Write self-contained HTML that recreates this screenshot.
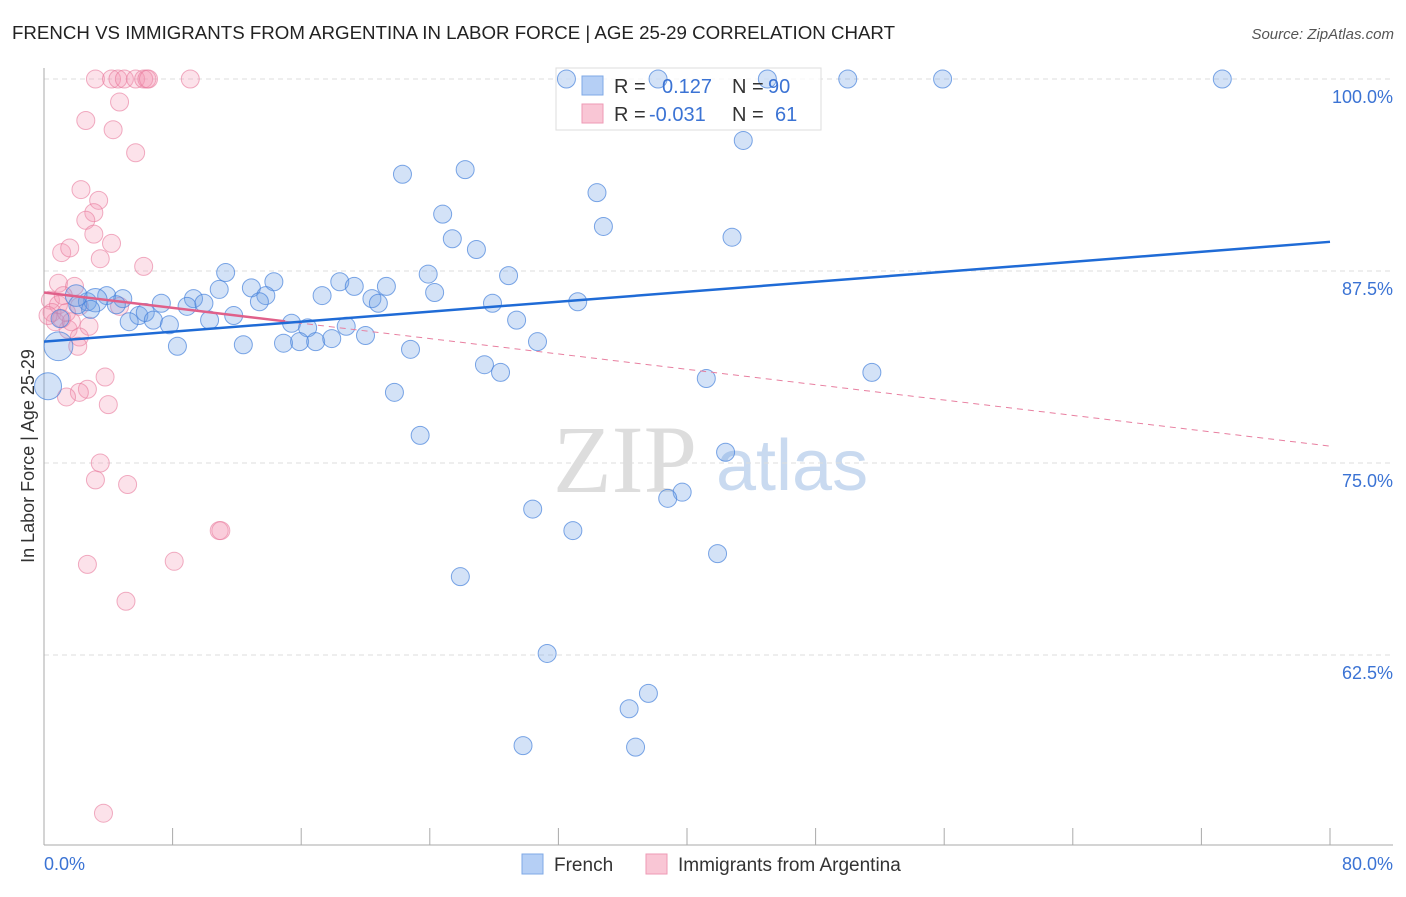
<!DOCTYPE html>
<html><head><meta charset="utf-8"><style>
body{margin:0;background:#fff;font-family:"Liberation Sans",sans-serif;}
</style></head><body>
<svg id="chart" width="1406" height="892" xmlns="http://www.w3.org/2000/svg">
<text x="12" y="39" font-size="18" fill="#222" textLength="883" lengthAdjust="spacingAndGlyphs">FRENCH VS IMMIGRANTS FROM ARGENTINA IN LABOR FORCE | AGE 25-29 CORRELATION CHART</text>
<text x="1394" y="39" font-size="15" fill="#555" font-style="italic" text-anchor="end">Source: ZipAtlas.com</text>
<g>
<text x="553" y="492" font-size="96" fill="#ddd" font-family="Liberation Serif,serif">ZIP</text>
<text x="716" y="490" font-size="72" fill="#c9daf0">atlas</text>
</g>
<g id="grid"></g><g id="axes"></g>
<g>
<rect x="556" y="68" width="265" height="62" fill="#fff" fill-opacity="0.75" stroke="#ddd"/>
</g>
<g id="marks"></g><g id="lines"></g>
<text x="34" y="456" font-size="18" fill="#333" text-anchor="middle" transform="rotate(-90 34 456)">In Labor Force | Age 25-29</text>
<g>
<rect x="582" y="76" width="21" height="19" fill="#b5cff5" stroke="#7fa9e6"/>
<rect x="582" y="104" width="21" height="19" fill="#f9c6d5" stroke="#ee9ab5"/>
<text font-size="20" fill="#333"><tspan x="614" y="93">R = </tspan><tspan x="662" fill="#3b73d4">0.127</tspan><tspan x="732">N = </tspan><tspan x="768" fill="#3b73d4">90</tspan></text>
<text font-size="20" fill="#333"><tspan x="614" y="121">R = </tspan><tspan x="649" fill="#3b73d4">-0.031</tspan><tspan x="732">N = </tspan><tspan x="775" fill="#3b73d4">61</tspan></text>
</g>
<g>
<rect x="522" y="854" width="21" height="20" fill="#b5cff5" stroke="#7fa9e6"/>
<text x="554" y="871" font-size="19" fill="#333">French</text>
<rect x="646" y="854" width="21" height="20" fill="#f9c6d5" stroke="#ee9ab5"/>
<text x="678" y="871" font-size="19" fill="#333">Immigrants from Argentina</text>
</g>
</svg>
<script>
const yTicks=[100,87.5,75,62.5];
const yTickLabels=["100.0%","87.5%","75.0%","62.5%"];
const xTickVals=[0,8,16,24,32,40,48,56,64,72,80];
const xEndLabels=["0.0%","80.0%"];
const frenchX=[32.5,38.2,45.0,50.0,55.9,73.3,43.5,22.3,26.2,34.4,24.8,34.8,25.4,42.8,26.9,11.3,14.3,12.9,18.4,23.9,28.9,19.3,21.3,24.3,17.3,13.8,10.9,20.4,20.8,27.9,33.2,9.3,7.3,8.9,9.95,13.4,11.8,3.9,4.9,2.7,2.1,5.9,6.3,6.8,5.3,7.8,10.3,15.4,16.4,18.8,29.4,8.3,12.4,14.9,15.9,16.9,17.9,20.0,22.8,30.7,27.4,28.4,41.2,51.5,21.8,23.4,42.4,39.7,38.8,30.4,32.9,41.9,25.9,31.3,37.6,36.4,29.8,36.8,0.9,0.25,1.0,3.2,4.5,2.0,2.9];
const frenchY=[100,100,100,100,100,100,96.0,93.8,94.1,92.6,91.2,90.4,89.6,89.7,88.9,87.4,86.8,86.4,86.8,87.3,87.2,86.5,86.5,86.1,85.9,85.9,86.3,85.7,85.4,85.4,85.5,85.7,85.4,85.2,85.4,85.5,84.6,85.9,85.7,85.5,85.3,84.6,84.8,84.3,84.2,84.0,84.3,84.1,83.8,83.9,84.3,82.6,82.7,82.8,82.9,82.9,83.1,83.3,82.4,82.9,81.4,80.9,80.5,80.9,79.6,76.8,75.7,73.1,72.7,72.0,70.6,69.1,67.6,62.6,60.0,59.0,56.6,56.5,82.6,80.0,84.4,85.6,85.3,85.9,85.0];
const frenchSize=[1,1,1,1,1,1,1,1,1,1,1,1,1,1,1,1,1,1,1,1,1,1,1,1,1,1,1,1,1,1,1,1,1,1,1,1,1,1,1,1,1,1,1,1,1,1,1,1,1,1,1,1,1,1,1,1,1,1,1,1,1,1,1,1,1,1,1,1,1,1,1,1,1,1,1,1,1,1,1.6,1.5,1,1.3,1,1.2,1];
const argX=[3.2,4.2,4.6,5.0,5.7,6.2,6.4,6.5,9.1,4.7,2.6,4.3,5.7,2.3,3.4,3.1,2.6,3.1,4.2,1.1,1.6,3.5,6.2,0.9,1.9,4.7,1.5,2.8,2.2,2.1,3.8,2.7,2.2,1.4,4.0,3.5,3.2,5.2,10.9,11.0,2.7,8.1,5.1,3.7,0.4,0.9,0.5,1.1,0.7,1.4,1.7,1.2,2.2,0.25];
const argY=[100,100,100,100,100,100,100,100,100,98.5,97.3,96.7,95.2,92.8,92.1,91.3,90.8,89.9,89.3,88.7,89.0,88.3,87.8,86.7,86.5,85.2,83.7,83.9,83.2,82.6,80.6,79.8,79.6,79.3,78.8,75.0,73.9,73.6,70.6,70.6,68.4,68.6,66.0,52.2,85.6,85.3,84.8,84.4,84.2,84.8,84.2,85.9,85.2,84.6];
const frenchTrend=[82.9,89.4];
const argTrend=[86.1,76.1];
const argSolidEnd=15;
const NS="http://www.w3.org/2000/svg";
const X=v=>44+v/80*1286, Y=v=>79+(100-v)/12.5*192;
function mk(t,a,p){const e=document.createElementNS(NS,t);for(const k in a)e.setAttribute(k,a[k]);document.getElementById(p).appendChild(e);return e;}
yTicks.forEach((t,i)=>{
 const g=mk('line',{x1:44,x2:1393,y1:Y(t),y2:Y(t),stroke:'#ddd','stroke-dasharray':'5,4'},'grid');
 
 
 const l=mk('text',{x:1393,y:Y(t)+24,'font-size':18,fill:'#3b73d4','text-anchor':'end'},'axes');
 l.textContent=yTickLabels[i];
 
 
});
let a=mk('line',{x1:44,x2:44,y1:68,y2:845,stroke:'#aaa'},'axes');


a=mk('line',{x1:44,x2:1393,y1:845,y2:845,stroke:'#aaa'},'axes');


xTickVals.forEach(v=>{const t=mk('line',{x1:X(v),x2:X(v),y1:828,y2:845,stroke:'#aaa'},'axes');
 
 });
[[0,'start',44],[80,'end',1393]].forEach(([v,anc,px],i)=>{const t=mk('text',{x:px,y:870,'font-size':18,fill:'#3b73d4','text-anchor':anc},'axes');t.textContent=xEndLabels[i];
 
 });
argX.forEach((x,i)=>{const c=mk('circle',{cx:X(x),cy:Y(argY[i]),r:9,fill:'rgba(244,150,180,0.28)',stroke:'rgba(232,120,155,0.6)'},'marks');
 
 });
frenchX.forEach((x,i)=>{const c=mk('circle',{cx:X(x),cy:Y(frenchY[i]),r:9*frenchSize[i],fill:'rgba(110,160,230,0.3)',stroke:'rgba(70,130,220,0.7)'},'marks');
 
 });
const ay=v=>argTrend[0]+(argTrend[1]-argTrend[0])*v/80;
let l=mk('line',{x1:X(argSolidEnd),y1:Y(ay(argSolidEnd)),x2:X(80),y2:Y(argTrend[1]),stroke:'#e87fa0','stroke-dasharray':'6,5','stroke-width':1},'lines');


l=mk('line',{x1:X(0),y1:Y(argTrend[0]),x2:X(argSolidEnd),y2:Y(ay(argSolidEnd)),stroke:'#e0608a','stroke-width':2.5},'lines');


l=mk('line',{x1:X(0),y1:Y(frenchTrend[0]),x2:X(80),y2:Y(frenchTrend[1]),stroke:'#1f6bd6','stroke-width':2.5},'lines');


</script>
</body></html>
